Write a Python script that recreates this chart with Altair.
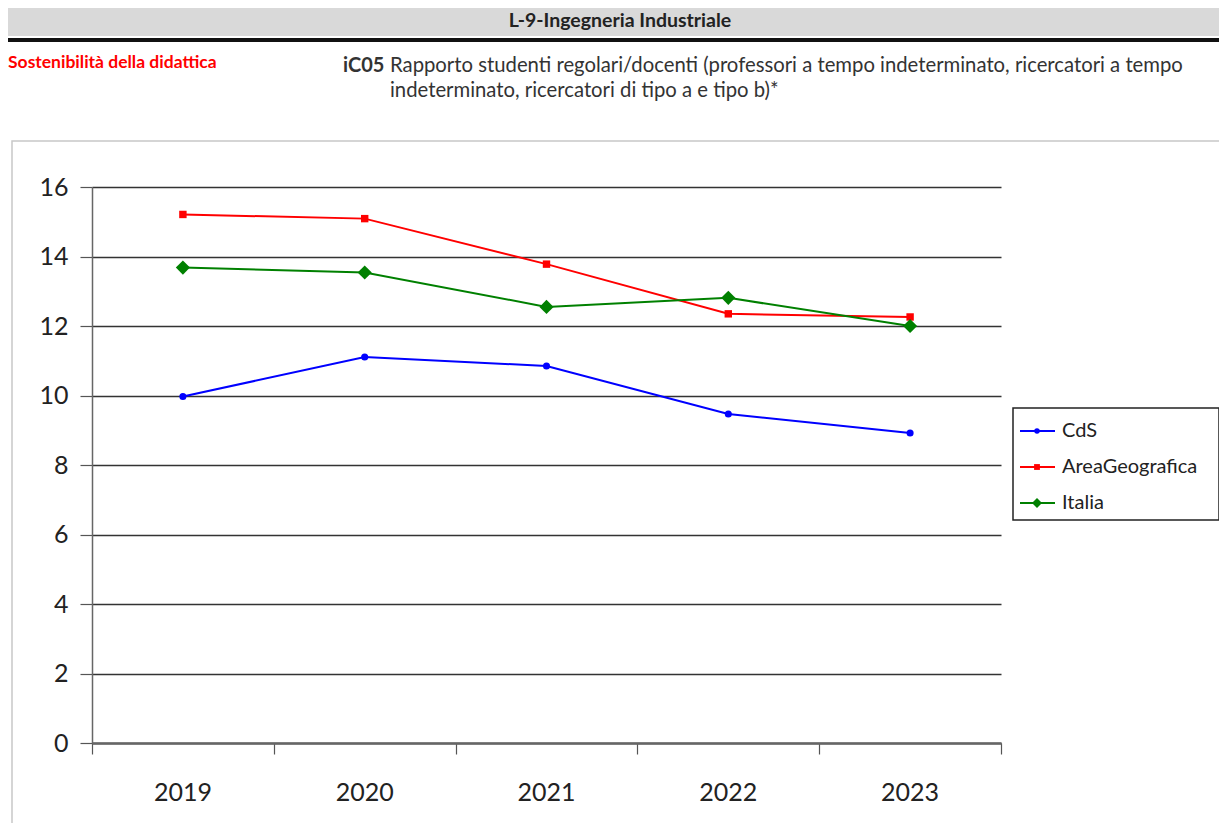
import altair as alt
import pandas as pd

years = [2019, 2020, 2021, 2022, 2023]
series_names = ["CdS", "AreaGeografica", "Italia"]
cds = [9.97, 11.11, 10.85, 9.47, 8.92]
area = [15.21, 15.09, 13.78, 12.35, 12.26]
italia = [13.68, 13.54, 12.55, 12.81, 12.00]
colors = ["#0000FF", "#FF0000", "#008000"]
shapes = ["circle", "square", "diamond"]
sizes = [50, 55, 200]
legend_sizes = [30, 34, 100]
y_ticks = [0, 2, 4, 6, 8, 10, 12, 14, 16]

header = "L-9-Ingegneria Industriale"
section = "Sostenibilità della didattica"
code = "iC05"
title_l1 = "Rapporto studenti regolari/docenti (professori a tempo indeterminato, ricercatori a tempo"
title_l2 = "indeterminato, ricercatori di tipo a e tipo b)*"

FONT = "Lato"
W, H = 909, 556

rows = []
for name, vals in zip(series_names, [cds, area, italia]):
    for yr, v in zip(years, vals):
        rows.append({"year": yr, "value": v, "series": name})
df = pd.DataFrame(rows)

color_scale = alt.Scale(domain=series_names, range=colors)
x_scale = alt.Scale(domain=[2018.5, 2023.5], nice=False, zero=False)
y_scale = alt.Scale(domain=[0, 16], nice=False)

base = alt.Chart(df)

lines = base.mark_line(strokeWidth=2).encode(
    x=alt.X("year:Q", scale=x_scale, title=None,
            axis=alt.Axis(values=[2018.5, 2019.5, 2020.5, 2021.5, 2022.5, 2023.5],
                          labels=False, grid=False, tickSize=11, tickColor="#555",
                          tickWidth=1.2, domainColor="#666", domainWidth=2.5)),
    y=alt.Y("value:Q", scale=y_scale, title=None,
            axis=alt.Axis(values=y_ticks, grid=True, gridColor="#333", gridWidth=1.3,
                          tickSize=12, tickColor="#555", tickWidth=1.2,
                          domainColor="#666", domainWidth=1.5,
                          labelFontSize=25, labelColor="#222", labelFont=FONT,
                          labelPadding=12)),
    color=alt.Color("series:N", scale=color_scale, legend=None),
    detail="series:N",
)

point_layers = []
for name, col, shp, sz in zip(series_names, colors, shapes, sizes):
    point_layers.append(
        base.transform_filter(alt.datum.series == name)
        .mark_point(filled=True, opacity=1, shape=shp, size=sz, color=col)
        .encode(x=alt.X("year:Q", scale=x_scale), y=alt.Y("value:Q", scale=y_scale))
    )

xlabels = alt.Chart(pd.DataFrame({"year": years})).mark_text(
    font=FONT, fontSize=25, color="#222", baseline="middle", align="center"
).encode(
    x=alt.X("year:Q", scale=x_scale),
    y=alt.value(H + 50),
    text=alt.Text("year:Q", format="d"),
)

one = alt.Data(values=[{"a": 1}])

outer_box = alt.Chart(one).mark_rect(fillOpacity=0, stroke="#c8c8c8", strokeWidth=1.5).encode(
    x=alt.value(-80), x2=alt.value(1160), y=alt.value(-46), y2=alt.value(700)
)
head_bar = alt.Chart(one).mark_rect(fill="#d9d9d9").encode(
    x=alt.value(-85), x2=alt.value(1160), y=alt.value(-181), y2=alt.value(-151)
)
head_line = alt.Chart(one).mark_rect(fill="#111").encode(
    x=alt.value(-85), x2=alt.value(1160), y=alt.value(-149), y2=alt.value(-145)
)
head_text = alt.Chart(one).mark_text(
    font=FONT, fontSize=19.5, fontWeight="bold", color="#222", align="center", baseline="middle"
).encode(x=alt.value(528), y=alt.value(-166), text=alt.value(header))
sec_text = alt.Chart(one).mark_text(
    font=FONT, fontSize=17.5, fontWeight="bold", color="#FF0000", align="left", baseline="middle"
).encode(x=alt.value(-84), y=alt.value(-124), text=alt.value(section))
code_text = alt.Chart(one).mark_text(
    font=FONT, fontSize=20, fontWeight="bold", color="#333", align="left", baseline="middle"
).encode(x=alt.value(251), y=alt.value(-121), text=alt.value(code))
t1 = alt.Chart(one).mark_text(
    font=FONT, fontSize=20.3, color="#333", align="left", baseline="middle"
).encode(x=alt.value(298), y=alt.value(-121), text=alt.value(title_l1))
t2 = alt.Chart(one).mark_text(
    font=FONT, fontSize=20.3, color="#333", align="left", baseline="middle"
).encode(x=alt.value(298), y=alt.value(-96), text=alt.value(title_l2))

# legend
leg_df = pd.DataFrame({"series": series_names, "idx": [0, 1, 2]})
leg_box = alt.Chart(one).mark_rect(fill="white", stroke="#222", strokeWidth=1.5).encode(
    x=alt.value(921), x2=alt.value(1127), y=alt.value(221), y2=alt.value(333)
)
leg_base = alt.Chart(leg_df).transform_calculate(ly="244 + 36 * datum.idx")
leg_rule = leg_base.mark_rule(strokeWidth=2).encode(
    x=alt.value(928), x2=alt.value(963),
    y=alt.Y("ly:Q", scale=None, axis=None),
    color=alt.Color("series:N", scale=color_scale, legend=None),
)
leg_pts = []
for name, col, shp, sz in zip(series_names, colors, shapes, legend_sizes):
    leg_pts.append(
        leg_base.transform_filter(alt.datum.series == name)
        .mark_point(filled=True, opacity=1, shape=shp, size=sz, color=col)
        .encode(x=alt.value(945), y=alt.Y("ly:Q", scale=None, axis=None))
    )
leg_txt = leg_base.mark_text(
    font=FONT, fontSize=20, color="#222", align="left", baseline="middle"
).encode(
    x=alt.value(970),
    y=alt.Y("ly:Q", scale=None, axis=None),
    text="series:N",
)

chart = alt.layer(
    outer_box, head_bar, head_line, head_text, sec_text, code_text, t1, t2,
    lines, *point_layers, xlabels, leg_box, leg_rule, *leg_pts, leg_txt
).properties(
    width=W, height=H,
    padding={"left": 84, "top": 179, "right": 218, "bottom": 80},
    autosize=alt.AutoSizeParams(type="none"),
    background="white",
).configure_view(stroke=None)

chart.save("out.html", embed_options={"renderer": "svg", "actions": False})
